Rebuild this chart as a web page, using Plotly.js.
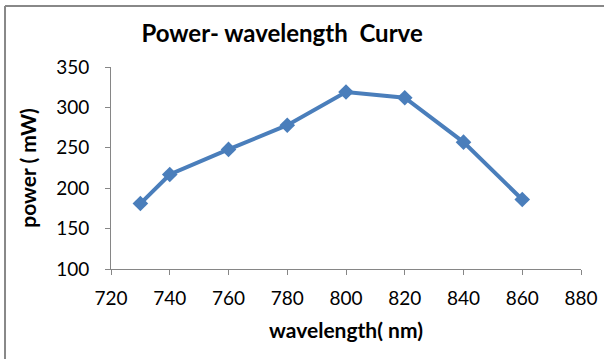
<!DOCTYPE html>
<html>
<head>
<meta charset="utf-8">
<script src="https://cdn.plot.ly/plotly-3.0.1.min.js"></script>
<style>
html,body{margin:0;padding:0;background:#fff;}
#chart{width:604px;height:359px;}
</style>
</head>
<body>
<div id="chart"></div>
<script>
const wavelength = [730, 740, 760, 780, 800, 820, 840, 860];
const power = [181, 217, 248, 278, 319, 312, 257, 186];
const xTicks = [720, 740, 760, 780, 800, 820, 840, 860, 880];
const yTicks = [100, 150, 200, 250, 300, 350];

const trace = {
  x: wavelength,
  y: power,
  type: 'scatter',
  mode: 'lines+markers',
  line: {color: '#4a7ebb', width: 4},
  marker: {symbol: 'diamond', size: 12, color: '#4a7ebb'},
  hoverinfo: 'skip'
};

const font = 'Lato, "Open Sans", sans-serif';

const layout = {
  width: 604,
  height: 359,
  margin: {l: 111, r: 23, t: 67, b: 90},
  paper_bgcolor: '#fff',
  plot_bgcolor: '#fff',
  showlegend: false,
  title: {
    text: 'Power- wavelength  Curve',
    font: {family: font, size: 24, color: '#000', weight: 'bold'},
    x: 0.467, xref: 'container', xanchor: 'center',
    y: 29, yref: 'container', yanchor: 'middle'
  },
  xaxis: {
    range: [720, 880],
    tickvals: xTicks,
    ticktext: xTicks.map(String),
    showgrid: false,
    zeroline: false,
    showline: true,
    linecolor: '#868686',
    linewidth: 1,
    ticks: 'outside',
    ticklen: 5,
    tickcolor: '#868686',
    ticklabelstandoff: 7,
    tickfont: {family: font, size: 19, color: '#000'},
    title: {text: 'wavelength( nm)', font: {family: font, size: 21, color: '#000', weight: 'bold'}, standoff: 15}
  },
  yaxis: {
    range: [100, 350],
    tickvals: yTicks,
    ticktext: yTicks.map(String),
    showgrid: false,
    zeroline: false,
    showline: true,
    linecolor: '#868686',
    linewidth: 1,
    ticks: 'outside',
    ticklen: 5,
    tickcolor: '#868686',
    ticklabelstandoff: 12,
    tickfont: {family: font, size: 19, color: '#000'},
    title: {text: 'power ( mW)', font: {family: font, size: 21, color: '#000', weight: 'bold'}, standoff: 13}
  },
  shapes: [
    {type: 'line', xref: 'paper', yref: 'paper', x0: -0.2255, x1: 1.2, y0: 1.302, y1: 1.302, line: {color: '#888', width: 2}},
    {type: 'line', xref: 'paper', yref: 'paper', x0: -0.2255, x1: -0.2255, y0: 1.302, y1: -0.6, line: {color: '#888', width: 2}}
  ]
};

Plotly.newPlot('chart', [trace], layout, {displayModeBar: false, staticPlot: true});
</script>
</body>
</html>
